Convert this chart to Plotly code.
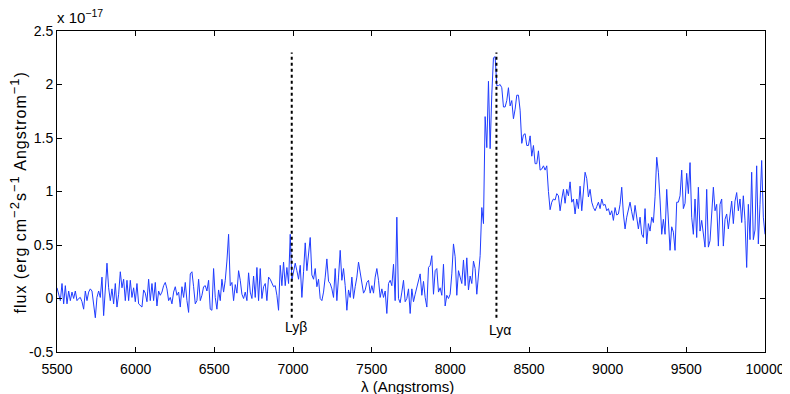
import numpy as np
import plotly.graph_objects as go

# flux in units of 1e-17 erg cm^-2 s^-1 A^-1 (uniform dispersion grid 5500-10000 A)
flux_blue1 = [0.10, 0.04, -0.02, 0.14, -0.05, 0.12, -0.05, 0.07, -0.02, 0.06, 0.00, 0.07, -0.02, 0.00,
              0.01, -0.03, -0.10, 0.07, -0.02, 0.06, 0.09, 0.07, -0.05, -0.18, 0.01, 0.07, 0.01, 0.20,
              -0.16, 0.10, 0.33, 0.10, -0.02, 0.09, -0.05, 0.14, -0.08, 0.04, 0.25, 0.10, 0.18, -0.02,
              0.17, -0.02, 0.17, 0.01, 0.10, -0.03, 0.14, -0.05, -0.07, -0.08, 0.08]
flux_blue2 = [0.05, -0.03, 0.18, -0.02, 0.14, -0.02, 0.15, -0.07, 0.07, 0.03, 0.06, 0.12, 0.15, 0.09,
              -0.02, 0.01, -0.05, 0.06, 0.11, 0.03, 0.06, -0.08, 0.11, 0.01, 0.15, -0.02, -0.13, 0.23,
              0.25, 0.11, -0.05, -0.02, 0.18, -0.02, 0.03, 0.11, 0.12, 0.07, 0.17, -0.10, -0.11, 0.28,
              0.01, -0.10, 0.08, -0.02, 0.18, 0.06, 0.17, 0.35, 0.60, 0.12, 0.15, -0.02]
flux_lyb = [0.13, 0.05, 0.26, 0.17, 0.04, 0.00, 0.06, -0.02, 0.24, 0.06, 0.00, 0.21, 0.01, 0.29,
            -0.02, 0.28, 0.00, 0.11, 0.14, -0.02, 0.20, 0.18, 0.15, 0.11, 0.12, 0.03, -0.11, 0.31,
            0.12, 0.34, 0.12, 0.29, 0.14, 0.60, 0.17, 0.26, 0.33, 0.26, 0.18, 0.31, 0.01, 0.25,
            0.52, 0.26, 0.45, 0.57, 0.22, 0.18, 0.28, 0.11, 0.18, 0.00, -0.02, 0.06]
flux_forest = [0.20, 0.37, 0.16, 0.14, 0.09, 0.01, 0.28, -0.02, 0.20, 0.45, 0.17, 0.28, 0.12, -0.11,
               0.08, 0.01, 0.20, 0.00, 0.11, 0.20, 0.34, 0.25, 0.14, 0.05, 0.08, 0.15, 0.17, 0.05,
               0.12, 0.05, 0.20, 0.28, 0.17, 0.01, 0.09, 0.01, 0.07, -0.14, 0.14, 0.17, 0.12, 0.32,
               -0.02, 0.76, 0.00, -0.04, 0.06, 0.17, -0.03, 0.00, 0.09, -0.14, 0.09, -0.03]
flux_lya = [0.04, 0.10, 0.16, 0.23, 0.03, 0.16, 0.01, -0.08, 0.29, 0.31, 0.40, 0.04, 0.26, 0.28,
            0.06, 0.10, 0.03, 0.32, -0.07, 0.03, 0.00, 0.04, 0.23, 0.51, 0.39, 0.03, 0.26, 0.20,
            0.14, 0.36, 0.12, 0.38, 0.08, 0.21, 0.14, 0.35, 0.28, 0.04, 0.26, 0.40, 0.85, 0.70,
            1.70, 1.41, 2.03, 1.40, 1.91, 2.25, 2.26, 1.99, 1.99, 2.00, 1.97, 1.79]
flux_red1 = [1.79, 1.85, 1.97, 1.80, 1.85, 1.68, 1.77, 1.90, 1.90, 1.76, 1.45, 1.53, 1.54, 1.43,
             1.43, 1.52, 1.33, 1.43, 1.26, 1.26, 1.38, 1.20, 1.21, 1.24, 1.20, 1.24, 1.00, 0.83,
             0.90, 0.93, 0.92, 0.98, 0.96, 0.82, 0.93, 1.02, 0.89, 1.02, 0.96, 1.09, 0.90, 0.93,
             0.79, 0.93, 0.84, 1.05, 0.82, 1.01, 1.18, 1.12, 0.95, 1.02, 0.90, 0.85]
flux_red2 = [0.82, 0.86, 0.90, 0.84, 0.93, 0.87, 0.88, 0.82, 0.84, 0.78, 0.82, 0.73, 0.85, 0.78,
             0.79, 0.88, 1.04, 0.79, 0.65, 0.76, 0.83, 0.90, 0.81, 0.73, 0.87, 0.74, 0.65, 0.76,
             0.60, 0.57, 0.84, 0.51, 0.70, 0.63, 0.76, 0.71, 0.95, 1.32, 1.18, 0.92, 0.60, 0.74,
             0.60, 1.02, 0.73, 0.45, 0.67, 0.62, 0.45, 0.90, 0.90, 0.96, 1.20, 0.84]
flux_red3 = [0.89, 1.17, 0.98, 1.27, 0.76, 0.60, 0.93, 0.57, 1.04, 0.63, 0.73, 0.60, 0.48, 1.02,
             0.48, 0.54, 0.85, 1.04, 0.82, 0.88, 0.49, 0.88, 0.93, 0.49, 0.74, 0.79, 0.65, 0.76,
             0.91, 0.70, 0.91, 0.99, 0.82, 0.93, 0.71, 0.96, 0.73, 0.29, 0.88, 0.55, 1.18, 0.55,
             0.64, 1.24, 0.51, 0.88, 1.29, 0.76, 0.60]

flux = (flux_blue1 + flux_blue2 + flux_lyb + flux_forest + flux_lya
        + flux_red1 + flux_red2 + flux_red3)
wave = np.linspace(5500, 10000, len(flux))

x_ticks = [5500, 6000, 6500, 7000, 7500, 8000, 8500, 9000, 9500, 10000]
y_ticks = [-0.5, 0, 0.5, 1, 1.5, 2, 2.5]
y_ticklabels = ["-0.5", "0", "0.5", "1", "1.5", "2", "2.5"]

line_names = ["Lyβ", "Lyα"]
line_waves = [6992, 8293]
line_top = 2.30
line_bottom = -0.18
label_y = [-0.27, -0.29]

font = "Liberation Sans, Arial, sans-serif"
sup = "<span style='font-size:13px'>%s</span>"

fig = go.Figure()
fig.add_trace(go.Scatter(x=wave, y=flux, mode="lines",
                         line=dict(color="#1f3cff", width=1), showlegend=False))

for name, lw, ly in zip(line_names, line_waves, label_y):
    fig.add_trace(go.Scatter(x=[lw, lw], y=[line_bottom, line_top], mode="lines",
                             line=dict(color="black", width=2, dash="dot"), showlegend=False))
    fig.add_annotation(x=lw + 25, y=ly, text=name, showarrow=False,
                       font=dict(size=14, color="black"))

fig.add_annotation(xref="paper", yref="paper", x=0, y=1, xanchor="left", yanchor="bottom",
                   text="x 10<sup>−17</sup>", showarrow=False, yshift=3, xshift=-2,
                   font=dict(size=15, color="black"))

# axis titles
fig.add_annotation(xref="paper", yref="paper", x=0.5, y=0, yanchor="middle", yshift=-34,
                   xshift=-4, text="λ (Angstroms)", showarrow=False,
                   font=dict(size=15, color="black"))
ylab = ("<span style='letter-spacing:1px'>flux (erg cm<sup>" + sup % "−2" + "</sup>s<sup>"
        + sup % "−1" + "</sup> Angstrom<sup>" + sup % "−1" + "</sup>)</span>")
fig.add_annotation(xref="paper", yref="paper", x=0, y=0.5, xanchor="center", yanchor="middle",
                   xshift=-39, yshift=-1, textangle=-90, text=ylab, showarrow=False,
                   font=dict(size=16, color="black"))

# figure is 8px smaller than the window to allow for the page's body margin
fig.update_layout(
    width=782, height=386,
    margin=dict(l=49, r=25, t=23, b=42),
    paper_bgcolor="white", plot_bgcolor="white",
    font=dict(family=font, size=14, color="black"),
    xaxis=dict(range=[5500, 10000], tickvals=x_ticks, ticktext=[str(v) for v in x_ticks],
               ticks="inside", ticklen=5, tickcolor="black", showline=True,
               linecolor="black", linewidth=1, mirror="ticks", showgrid=False,
               zeroline=False, automargin=False, ticklabelstandoff=4),
    yaxis=dict(range=[-0.5, 2.5], tickvals=y_ticks, ticktext=y_ticklabels,
               ticks="inside", ticklen=5, tickcolor="black", showline=True,
               linecolor="black", linewidth=1, mirror="ticks", showgrid=False,
               zeroline=False, automargin=False),
)

fig.write_html("out.html")
